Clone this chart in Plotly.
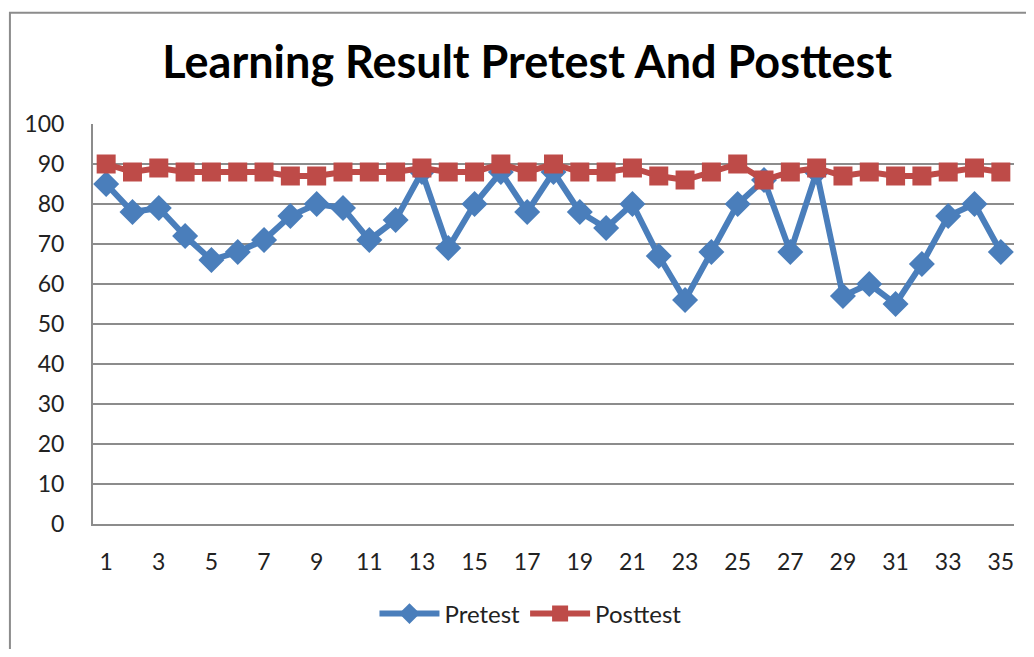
import plotly.graph_objects as go

students = list(range(1, 36))
pretest = [85, 78, 79, 72, 66, 68, 71, 77, 80, 79, 71, 76, 88, 69, 80, 88, 78, 88, 78, 74,
           80, 67, 56, 68, 80, 86, 68, 88, 57, 60, 55, 65, 77, 80, 68]
posttest = [90, 88, 89, 88, 88, 88, 88, 87, 87, 88, 88, 88, 89, 88, 88, 90, 88, 90, 88, 88,
            89, 87, 86, 88, 90, 86, 88, 89, 87, 88, 87, 87, 88, 89, 88]
x_ticks = list(range(1, 36, 2))
y_ticks = list(range(0, 101, 10))

BLUE = "#4a7ebb"
RED = "#be4b48"
FONT = "Lato"

fig = go.Figure()
fig.add_trace(go.Scatter(
    x=students, y=pretest, name="Pretest", mode="lines+markers",
    line=dict(color=BLUE, width=6),
    marker=dict(symbol="diamond", size=20, color=BLUE),
))
fig.add_trace(go.Scatter(
    x=students, y=posttest, name="Posttest", mode="lines+markers",
    line=dict(color=RED, width=6),
    marker=dict(symbol="square", size=19, color=RED),
))

fig.update_layout(
    width=1018, height=641,
    margin=dict(l=85, r=12, t=116, b=119),
    paper_bgcolor="white", plot_bgcolor="white",
    font=dict(family=FONT, size=23, color="#222222"),
    title=dict(text="<b>Learning Result Pretest And Posttest</b>",
               x=0.51, xanchor="center", y=0.915, yanchor="middle",
               font=dict(family=FONT, size=45, color="black")),
    showlegend=True,
    legend=dict(orientation="h", x=0.475, xanchor="center", y=-0.225, yanchor="middle",
                font=dict(family=FONT, size=24, color="#222222"), itemwidth=60,
                bgcolor="rgba(0,0,0,0)"),
    shapes=[dict(type="rect", xref="paper", yref="paper",
                 x0=-0.0902, x1=1.2, y0=-0.5, y1=1.2783,
                 line=dict(color="#8c8c8c", width=2), layer="below")],
)
fig.update_xaxes(
    range=[0.5, 35.5], tickvals=x_ticks, ticktext=[str(v) for v in x_ticks],
    showgrid=False, showline=True, linecolor="#8c8c8c", linewidth=2,
    ticks="outside", ticklen=16, tickcolor="rgba(0,0,0,0)", zeroline=False,
)
fig.update_yaxes(
    range=[0, 100], tickvals=y_ticks, showgrid=True, gridcolor="#8c8c8c", gridwidth=2,
    showline=True, linecolor="#8c8c8c", linewidth=2, zeroline=False,
    ticks="outside", ticklen=22, tickcolor="rgba(0,0,0,0)",
)

fig.write_html("out.html")
